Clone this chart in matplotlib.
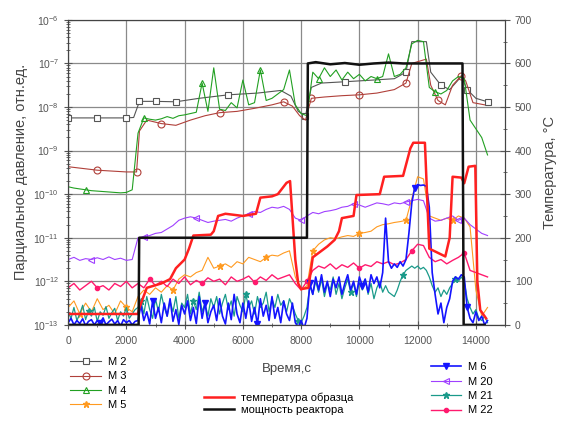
import numpy as np
import matplotlib
matplotlib.use("Agg")
import matplotlib.pyplot as plt
from matplotlib.ticker import LogLocator, MultipleLocator, NullFormatter

plt.rcParams['font.family'] = ['Liberation Sans', 'DejaVu Sans']

# time grids of the mass-spec scans, s
t_fast = np.arange(0, 14401, 100)
t_scan = np.arange(0, 14401, 200)

# log10 of partial pressures, fast channels (100 s)
m6_lg = [-12.95, -12.85, -13.0, -12.9, -12.97, -12.86, -13.02, -12.92, -12.88, -13.0, -12.9, -12.96,
         -12.84, -13.0, -12.93, -12.87, -12.98, -12.9, -13.03, -12.88, -12.95, -12.9, -13.0, -12.92,
         -12.9,
         -12.55, -12.9, -12.7, -12.98, -12.45, -12.85, -12.6, -12.95, -12.5, -12.8,
         -12.4, -12.92, -12.65, -12.99, -12.55, -12.75, -12.45, -12.9, -12.6, -12.97,
         -12.35, -12.85, -12.5, -12.95, -12.7, -12.55, -12.9, -12.4, -12.8, -12.98,
         -12.5, -12.88, -12.3, -12.75, -12.95, -12.5, -12.85, -12.45, -12.92, -12.6,
         -12.99, -12.4, -12.8, -12.55, -12.9, -12.35, -12.85, -12.6, -12.95, -12.45,
         -12.75, -12.9, -12.5,
         -12.95, -13.05, -12.9, -13.08, -12.85,
         -12.05, -12.3, -11.9, -12.2, -11.85, -12.25, -12.0, -12.35, -11.95, -12.15,
         -11.9, -12.3, -12.05, -11.85, -12.2, -12.0, -12.3, -11.9, -12.1, -11.95,
         -12.25, -11.85, -12.05, -11.9, -12.15, -11.8,
         -10.55,
         -11.55, -11.7, -11.6, -11.68, -11.55, -11.65, -11.5,
         -10.9, -10.2, -9.85,
         -9.78, -9.8, -9.79, -9.82,
         -10.3, -11.8,
         -12.3, -12.75, -12.5, -12.95, -12.6, -12.4,
         -12.0, -11.9, -11.95, -11.85, -11.9,
         -12.6, -12.85, -12.95, -12.7, -12.9, -12.8, -13.0, -12.9]
m21_lg = [-12.7, -12.85, -12.6, -12.9, -12.75, -12.55, -12.88, -12.68, -12.8, -12.6, -12.92, -12.7,
          -12.78, -12.58, -12.85, -12.72, -12.62, -12.9, -12.7, -12.8, -12.6, -12.85, -12.75, -12.65,
          -12.6,
          -12.45, -12.75, -12.35, -12.65, -12.85, -12.4, -12.7, -12.3, -12.6, -12.8,
          -12.45, -12.7, -12.35, -12.85, -12.5, -12.6, -12.3, -12.75, -12.45, -12.65,
          -12.25, -12.7, -12.5, -12.8, -12.4, -12.6, -12.35, -12.75, -12.5, -12.3,
          -12.65, -12.45, -12.8, -12.35, -12.55, -12.7, -12.3, -12.6, -12.45, -12.75,
          -12.35, -12.6, -12.5, -12.25, -12.7, -12.4, -12.6, -12.3, -12.55, -12.45,
          -12.7, -12.4, -12.55,
          -12.75, -12.9, -12.95, -12.8, -12.6,
          -12.1, -12.3, -12.0, -12.25, -11.95, -12.35, -12.05, -12.2, -11.9, -12.3,
          -12.05, -12.4, -12.15, -11.95, -12.25, -12.05, -12.35, -12.0, -12.2, -11.95,
          -12.3, -12.05, -12.4, -12.15, -12.0, -12.25,
          -12.1,
          -12.25, -12.3, -12.35, -12.2, -12.0, -11.85, -11.75,
          -11.7, -11.65, -11.7,
          -11.65, -11.72, -11.68, -11.75,
          -11.9, -12.1,
          -12.25, -12.15, -12.35, -12.2, -12.3, -12.15,
          -12.05, -11.95, -12.0, -11.9, -12.0,
          -12.4, -12.6, -12.75, -12.65, -12.85, -12.9, -12.8, -12.95]

# log10 of partial pressures, 200 s scans
m4_lg = [-9.83, -9.86, -9.88, -9.9, -9.92, -9.93, -9.94, -9.95, -9.96, -9.97, -9.96, -9.9,
         -8.6,
         -8.25, -8.28, -8.3, -8.27, -8.22, -8.26, -8.2, -8.18,
         -8.15, -8.12, -7.45, -8.1, -7.1, -8.05, -8.08, -7.9, -8.02, -7.38, -7.95, -7.9, -7.15,
         -7.85, -7.8, -7.7, -7.6, -7.15,
         -7.95, -8.15, -8.2,
         -7.2, -7.35, -7.1, -7.3, -7.15, -7.38, -7.2, -7.35, -7.25, -7.4, -7.3, -7.35, -7.3,
         -6.78, -7.3, -7.25, -7.1,
         -6.55, -6.47, -6.5,
         -7.55, -7.65, -7.7, -7.62, -7.4, -7.3, -7.35, -8.3, -8.5, -8.7, -9.1]
m5_lg = [-12.6, -12.45, -12.75, -12.5, -12.7, -12.4, -12.65, -12.55, -12.75, -12.45, -12.6, -12.7,
         -12.35, -12.2, -12.3, -12.15, -12.25, -12.1, -12.2,
         -11.95, -11.85, -11.9, -11.8, -11.75, -11.45, -11.7, -11.65, -11.6, -11.68,
         -11.55, -11.6, -11.45, -11.5, -11.55, -11.45, -11.4, -11.42, -11.35, -11.3,
         -11.9, -12.2, -12.1,
         -11.3, -11.15, -11.05, -11.0, -11.02, -10.98, -10.95, -10.97, -10.9, -10.88, -10.85, -10.75, -10.7,
         -10.68, -10.65, -10.63, -10.6,
         -10.1, -9.6, -9.65,
         -10.5, -10.55, -10.6, -10.55, -10.6, -10.5, -10.55, -10.75, -12.2, -12.8, -12.6]
m20_lg = [-11.5, -11.45, -11.52, -11.48, -11.5, -11.46, -11.5, -11.44, -11.5, -11.47, -11.52, -11.5,
          -11.0, -10.98, -10.95, -10.9, -10.88, -10.8, -10.72, -10.6, -10.55, -10.52, -10.55, -10.6,
          -10.65, -10.62, -10.6, -10.58, -10.62, -10.55, -10.5, -10.45, -10.4, -10.42, -10.35, -10.3,
          -10.32, -10.28, -10.35,
          -10.55, -10.6, -10.5,
          -10.42, -10.45, -10.4, -10.38, -10.35, -10.3, -10.28, -10.22, -10.25, -10.3, -10.25, -10.2, -10.22,
          -10.25, -10.2, -10.22, -10.18,
          -10.15, -10.12, -10.15,
          -10.55, -10.62, -10.6, -10.55, -10.5, -10.6, -10.55, -10.7, -10.8, -10.9, -10.95]
m22_lg = [-12.15, -12.05, -12.2, -12.1, -12.0, -12.15, -12.1, -12.2, -12.05, -12.12, -12.0, -12.15,
          -12.05, -12.15, -11.95, -12.1, -12.0, -12.12, -11.95, -12.05, -11.9, -12.08, -11.98, -12.05,
          -11.92, -12.0, -11.95, -12.08, -11.9, -12.0, -11.95, -11.88, -12.02, -11.9, -11.98, -11.85,
          -11.95, -11.9, -11.85,
          -12.05, -12.2, -12.0,
          -11.75, -11.65, -11.7, -11.6, -11.72, -11.62, -11.68, -11.58, -11.7, -11.62, -11.66, -11.55, -11.6,
          -11.55, -11.62, -11.58, -11.5,
          -11.3, -11.15, -11.18,
          -11.45, -11.55, -11.5, -11.6, -11.52, -11.45, -11.35, -11.75, -11.8, -11.85, -11.9]

# slower channels recorded at irregular times
t_m2 = [0, 1000, 2000, 2250, 2450, 3000, 3700, 4500, 5500, 6500, 7300, 7650, 7900, 8150, 8350,
        8700, 9500, 10500, 11200, 11600, 11800, 12300, 12450, 12800, 13100, 13500, 13700, 14000, 14400]
m2_lg = [-8.25, -8.25, -8.25, -8.24, -7.87, -7.87, -7.88, -7.8, -7.72, -7.68, -7.62, -7.75, -8.1, -8.2, -7.55,
         -7.45, -7.42, -7.38, -7.35, -7.2, -6.5, -6.5, -7.2, -7.5, -7.6, -7.3, -7.6, -7.8, -7.88]
t_m3 = [0, 1000, 2000, 2350, 2450, 2700, 3200, 3700, 4200, 4700, 5200, 5800, 6400, 7000, 7400, 7700,
        7950, 8150, 8350, 8800, 9400, 10000, 10600, 11200, 11600, 11800, 12300, 12450, 12700, 12950,
        13200, 13500, 13650, 13900, 14300]
m3_lg = [-9.37, -9.45, -9.49, -9.49, -8.55, -8.3, -8.38, -8.42, -8.3, -8.2, -8.13, -8.1, -8.03, -7.95, -7.88, -7.98,
         -8.2, -8.3, -7.8, -7.77, -7.74, -7.72, -7.68, -7.6, -7.45, -7.0, -6.9, -7.5, -7.85, -7.95,
         -7.5, -7.28, -7.4, -7.9, -7.95]

# sample temperature, C
t_temp = [0, 2400, 2450, 2700, 3200, 3500, 3700, 4000, 4150, 4300, 4900, 5000, 5150, 5400, 6000, 6450,
          6600, 7000, 7200, 7500, 7620, 7700, 7800, 7900, 8000, 8250, 8400, 8600, 8900, 9150, 9300,
          9400, 9800, 9900, 10700, 10850, 11500, 11750, 11850, 12250, 12400, 12950, 13100, 13200,
          13500, 13600, 13750, 13980, 14050, 14150, 14350]
temp = [25, 25, 40, 85, 95, 105, 130, 150, 175, 205, 207, 215, 250, 255, 250, 255,
        292, 295, 300, 326, 330, 250, 150, 95, 82, 85, 155, 165, 180, 195, 215,
        245, 250, 298, 300, 340, 342, 405, 418, 418, 175, 157, 200, 340,
        338, 325, 363, 365, 100, 34, 15]

# reactor power on the temperature scale
t_pow = [0, 2420, 2440, 8200, 8230, 8500, 9000, 9500, 10000, 10500, 11000, 11500, 12000, 12500,
         13000, 13540, 13580, 14300]
power = [0, 0, 200, 200, 600, 603, 598, 601, 597, 600, 602, 600, 600, 600, 600, 600, 0, 0]

grey = '#555555'
fig = plt.figure(figsize=(5.63, 4.23), dpi=100)
ax = fig.add_axes([0.121, 0.232, 0.776, 0.721])

lw = 0.8
h_m2, = ax.plot(t_m2, 10.0 ** np.array(m2_lg), color='#555555', lw=lw, marker='s', ms=5,
                mfc='white', mew=0.8, markevery=[0, 1, 2, 4, 5, 6, 8, 13, 16, 19, 23, 26, 28],
                label='M 2')
h_m3, = ax.plot(t_m3, 10.0 ** np.array(m3_lg), color='#b0403a', lw=lw, marker='o', ms=5,
                mfc='none', mew=0.8, markevery=[1, 3, 6, 10, 14, 18, 21, 24, 28, 31],
                label='M 3')
h_m4, = ax.plot(t_scan, 10.0 ** np.array(m4_lg), color='#22a022', lw=lw, marker='^', ms=4.5,
                mfc='none', mew=0.8, markevery=(3, 10), label='M 4')
h_m5, = ax.plot(t_scan, 10.0 ** np.array(m5_lg), color='#ff9a20', lw=lw, marker='*', ms=5,
                markevery=(2, 8), label='M 5')
h_m20, = ax.plot(t_scan, 10.0 ** np.array(m20_lg), color='#a040ff', lw=lw, marker='<', ms=4,
                 mfc='none', mew=0.8, markevery=(4, 9), label='M 20')
h_m22, = ax.plot(t_scan, 10.0 ** np.array(m22_lg), color='#ff1a6e', lw=1.0, marker='o', ms=3,
                 markevery=(5, 9), label='M 22')
h_m21, = ax.plot(t_fast, 10.0 ** np.array(m21_lg), color='#1a9a8a', lw=0.9, marker='*', ms=4.5,
                 markevery=(7, 18), label='M 21')
h_m6, = ax.plot(t_fast, 10.0 ** np.array(m6_lg), color='#1414ff', lw=1.2, marker='v', ms=4,
                markevery=(11, 18), label='M 6')

ax.set_yscale('log')
ax.set_xlim(0, 15000)
ax.set_ylim(1e-13, 1e-6)
ax.xaxis.set_major_locator(MultipleLocator(2000))
ax.xaxis.set_minor_locator(MultipleLocator(1000))
ax.yaxis.set_major_locator(LogLocator(base=10, numticks=20))
ax.yaxis.set_minor_locator(LogLocator(base=10, subs=np.arange(2, 10), numticks=20))
ax.yaxis.set_minor_formatter(NullFormatter())
ax.grid(True, which='major', color='#8a8a8a', lw=0.9)
ax.tick_params(which='both', direction='inout', colors=grey, labelsize=7.5, labelcolor=grey)
ax.tick_params(which='major', length=6)
ax.tick_params(which='minor', length=3)
ax.tick_params(axis='x', pad=5)
for s in ax.spines.values():
    s.set_color('#444444')
ax.set_xlabel('Время,с', color='#444444', fontsize=9.5, labelpad=12)
ax.set_ylabel('Парциальное давление, отн.ед.', color='#444444', fontsize=10.5, labelpad=4)

ax2 = ax.twinx()
h_temp, = ax2.plot(t_temp, temp, color='#ff2020', lw=1.8, label='температура образца')
h_pow, = ax2.plot(t_pow, power, color='#111111', lw=1.8, label='мощность реактора')
ax2.set_ylim(0, 700)
ax2.yaxis.set_major_locator(MultipleLocator(100))
ax2.yaxis.set_minor_locator(MultipleLocator(50))
ax2.tick_params(which='both', direction='inout', colors=grey, labelsize=7.5, labelcolor=grey)
ax2.tick_params(which='major', length=7)
ax2.tick_params(which='minor', length=3)
for s in ax2.spines.values():
    s.set_color('#444444')
ax2.set_ylabel('Температура, °С', color='#444444', fontsize=10.5, labelpad=8)

leg_kw = dict(frameon=False, fontsize=8, handlelength=2.75, handletextpad=0.6,
              borderpad=0, borderaxespad=0)
fig.legend(handles=[h_m2, h_m3, h_m4, h_m5], loc='upper left', labelspacing=0.4,
           bbox_to_anchor=(0.125, 0.156), **leg_kw)
fig.legend(handles=[h_temp, h_pow], loc='upper left', labelspacing=0.25,
           bbox_to_anchor=(0.362, 0.073), **leg_kw)
fig.legend(handles=[h_m6, h_m20, h_m21, h_m22], loc='upper left', labelspacing=0.4,
           bbox_to_anchor=(0.765, 0.144), **leg_kw)

fig.savefig('out.png', dpi=100)
